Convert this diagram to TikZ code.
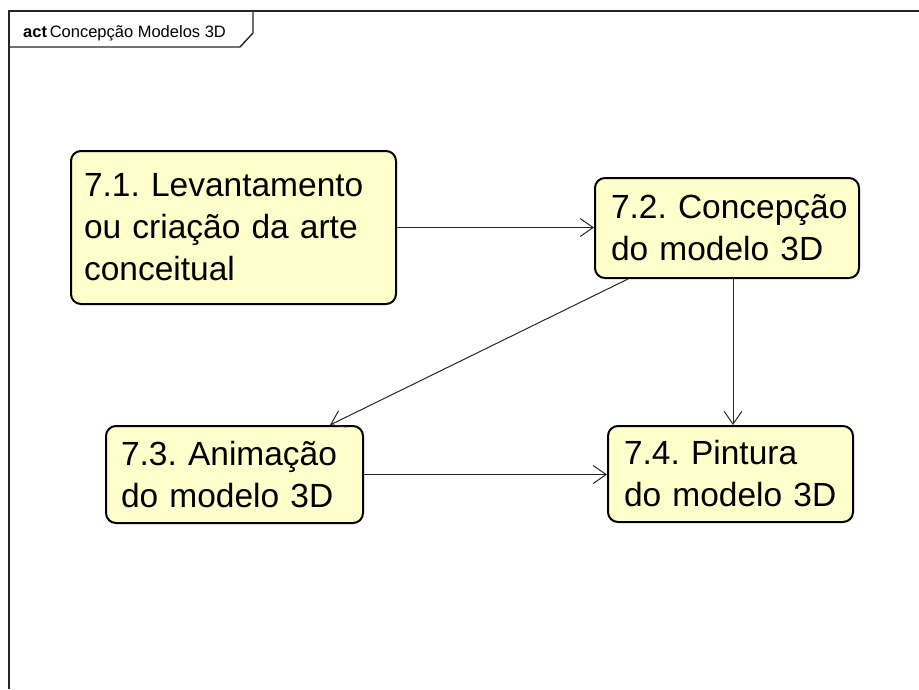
\documentclass[tikz,border=0pt]{standalone}
\usepackage{fontspec}
\setmainfont{Liberation Sans}
\frenchspacing
\usetikzlibrary{arrows.meta}
\definecolor{boxfill}{HTML}{FFFFCC}
\tikzset{
  actbox/.style={draw=black, line width=2pt, fill=boxfill, rounded corners=10pt,
    anchor=north west, align=left, inner sep=0pt, font=\fontsize{33.5}{42}\selectfont},
  flow/.style={draw=black!85, line width=1pt, -{Straight Barb[length=13pt,width=18pt,line width=1pt]}},
  frame/.style={draw=black!85, line width=1.4pt}
}
\begin{document}
\begin{tikzpicture}[x=1pt,y=-1pt]
\useasboundingbox (0,0) rectangle (919,689);
% frame
\draw[frame] (919,11) -- (9,11) -- (9,689);
\draw[frame] (9,47) -- (240,47) -- (253,33) -- (253,11);
\node[anchor=base west, inner sep=0pt, font=\fontsize{16.5}{18}\selectfont] (title) at (23,37) {\textbf{act}\,Concepção Modelos 3D};
% boxes
\node[actbox, minimum width=325pt, minimum height=153pt, text width=325pt] (b1) at (70,150)
  {\hspace*{13pt}7.1. Levantamento\\\hspace*{13pt}ou criação da arte\\\hspace*{13pt}conceitual};
\node[actbox, minimum width=264pt, minimum height=100pt, text width=264pt] (b2) at (594,177)
  {\hspace*{16pt}7.2. Concepção\\\hspace*{16pt}do modelo 3D};
\node[actbox, minimum width=257pt, minimum height=97pt, text width=257pt] (b3) at (105,425)
  {\hspace*{15pt}7.3. Animação\\\hspace*{15pt}do modelo 3D};
\node[actbox, minimum width=245pt, minimum height=96pt, text width=245pt] (b4) at (607,425)
  {\hspace*{16pt}7.4. Pintura\\\hspace*{16pt}do modelo 3D};
% connectors
\draw[flow] (b1.east) -- (b1.east -| b2.west);
\draw[flow] ([xshift=34pt]b2.south west) -- ([xshift=225pt]b3.north west);
\draw[flow] ([xshift=139pt]b2.south west) -- ([xshift=126pt]b4.north west);
\draw[flow] (b3.east) -- (b3.east -| b4.west);
\end{tikzpicture}
\end{document}
